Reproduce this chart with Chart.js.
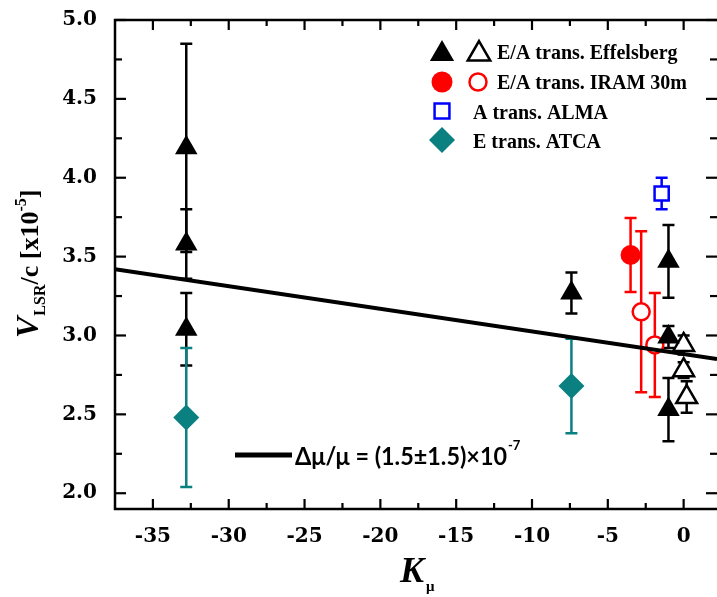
<!DOCTYPE html>
<html>
<head>
<meta charset="utf-8">
<script src="https://cdn.jsdelivr.net/npm/chart.js@4.4.0/dist/chart.umd.min.js"></script>
<style>
  html, body { margin: 0; padding: 0; background: #fff; overflow: hidden; }
  #wrap { width: 717px; height: 597px; position: relative; }
  #wrap canvas { display: block; }
</style>
</head>
<body>
<div id="wrap"><canvas id="chart"></canvas></div>
<script>
// values (K_mu on x, V_LSR/c in 1e-5 on y)
const effX = [-32.8, -32.8, -32.8, -7.4, -1.0, -1.0, -1.0];
const effY = [4.19, 3.58, 3.04, 3.27, 3.47, 2.99, 2.53];
const effErr = [0.66, 0.22, 0.23, 0.13, 0.23, 0.07, 0.20];

const effOpenX = [0.0, 0.0, 0.2];
const effOpenY = [2.94, 2.78, 2.61];
const effOpenErr = [0.06, 0.05, 0.10];

const iramX = [-3.5];
const iramY = [3.51];
const iramErr = [0.235];

const iramOpenX = [-2.8, -1.9];
const iramOpenY = [3.15, 2.94];
const iramOpenErr = [0.51, 0.33];

const almaX = [-1.45];
const almaY = [3.90];
const almaErr = [0.10];

const atcaX = [-32.8, -7.4];
const atcaY = [2.48, 2.68];
const atcaErr = [0.44, 0.30];

// fitted line
const fitX = [-37.5, 2.2];
const fitY = [3.42, 2.85];

// axes
const xTickVals = [-35, -30, -25, -20, -15, -10, -5, 0];
const yTickVals = [2.0, 2.5, 3.0, 3.5, 4.0, 4.5, 5.0];
const xRange = [-37.5, 2.2];
const yRange = [1.9, 5.0];

const TEAL = '#0a8080';
const serif = "'Liberation Serif', 'DejaVu Serif', serif";
const tickFont = "'DejaVu Serif', serif";

function pts(xs, ys) {
  return xs.map((x, i) => ({ x: x, y: ys[i] }));
}

// same shapes Chart.js uses, for the hand drawn legend
function marker(ctx, style, x, y, r, fill, stroke, lw) {
  ctx.save();
  ctx.beginPath();
  if (style === 'triangle') {
    const s = Math.sin(Math.PI / 3) * r;
    ctx.moveTo(x, y - r);
    ctx.lineTo(x + s, y + r / 2);
    ctx.lineTo(x - s, y + r / 2);
    ctx.closePath();
  } else if (style === 'circle') {
    ctx.arc(x, y, r, 0, Math.PI * 2);
  } else if (style === 'rect') {
    const h = Math.SQRT1_2 * r;
    ctx.rect(x - h, y - h, 2 * h, 2 * h);
  } else if (style === 'rectRot') {
    ctx.moveTo(x, y - r);
    ctx.lineTo(x + r, y);
    ctx.lineTo(x, y + r);
    ctx.lineTo(x - r, y);
    ctx.closePath();
  }
  ctx.fillStyle = fill;
  ctx.fill();
  if (lw > 0) {
    ctx.strokeStyle = stroke;
    ctx.lineWidth = lw;
    ctx.stroke();
  }
  ctx.restore();
}

// draw a row of text pieces (normal / sub / sup) starting at x on baseline y
function runs(ctx, parts, x, y) {
  parts.forEach(p => {
    ctx.font = p.font;
    ctx.fillText(p.t, x, y + (p.dy || 0));
    x += ctx.measureText(p.t).width + (p.gap || 0);
  });
  return x;
}

const decor = {
  id: 'decor',
  beforeDatasetsDraw(chart) {
    const ctx = chart.ctx, xs = chart.scales.x, ys = chart.scales.y, a = chart.chartArea;
    ctx.save();
    ctx.beginPath();
    ctx.rect(a.left, a.top, a.right - a.left, a.bottom - a.top);
    ctx.clip();
    chart.data.datasets.forEach(ds => {
      if (!ds.err) return;
      ctx.strokeStyle = ds.errColor;
      ctx.lineWidth = 2.5;
      ds.data.forEach((p, j) => {
        const px = xs.getPixelForValue(p.x);
        const t = ys.getPixelForValue(p.y + ds.err[j]);
        const b = ys.getPixelForValue(p.y - ds.err[j]);
        ctx.beginPath();
        ctx.moveTo(px, t); ctx.lineTo(px, b);
        ctx.moveTo(px - 6, t); ctx.lineTo(px + 6, t);
        ctx.moveTo(px - 6, b); ctx.lineTo(px + 6, b);
        ctx.stroke();
      });
    });
    ctx.restore();
  },
  afterDraw(chart) {
    const ctx = chart.ctx, xs = chart.scales.x, ys = chart.scales.y, a = chart.chartArea;
    const tick = (x1, y1, x2, y2) => { ctx.beginPath(); ctx.moveTo(x1, y1); ctx.lineTo(x2, y2); ctx.stroke(); };
    ctx.save();
    ctx.strokeStyle = '#000';
    ctx.lineWidth = 2.5;
    // frame: right side falls off the picture in the original
    ctx.beginPath();
    ctx.moveTo(a.right, a.top); ctx.lineTo(a.left, a.top);
    ctx.lineTo(a.left, a.bottom); ctx.lineTo(a.right, a.bottom);
    ctx.stroke();

    // inward ticks on all four sides
    ctx.lineWidth = 2.2;
    xTickVals.forEach(v => {
      const px = xs.getPixelForValue(v);
      tick(px, a.bottom, px, a.bottom - 10);
      tick(px, a.top, px, a.top + 10);
      const m = v + 2.5;
      if (m < xRange[1]) {
        const mx = xs.getPixelForValue(m);
        tick(mx, a.bottom, mx, a.bottom - 6);
        tick(mx, a.top, mx, a.top + 6);
      }
    });
    yTickVals.forEach((v, i) => {
      const py = ys.getPixelForValue(v);
      tick(a.left, py, a.left + 11, py);
      tick(a.right, py, a.right - 11, py);
      if (i < yTickVals.length - 1) {
        const my = ys.getPixelForValue(v + 0.25);
        tick(a.left, my, a.left + 7, my);
        tick(a.right, my, a.right - 7, my);
      }
    });

    ctx.fillStyle = '#000';
    ctx.textBaseline = 'alphabetic';

    // y title, rotated
    ctx.save();
    ctx.translate(38, 338);
    ctx.rotate(-Math.PI / 2);
    runs(ctx, [
      { t: 'V', font: 'italic bold 32px ' + serif, gap: 1 },
      { t: 'LSR', font: 'bold 16px ' + serif, dy: 7 },
      { t: '/c [x10', font: 'bold 26px ' + serif },
      { t: '-5', font: 'bold 16px ' + serif, dy: -12 },
      { t: ']', font: 'bold 26px ' + serif }
    ], 0, 0);
    ctx.restore();

    // x title
    runs(ctx, [
      { t: 'K', font: 'italic bold 36px ' + serif, gap: 2 },
      { t: 'μ', font: 'bold 15px ' + serif, dy: 9 }
    ], 400, 582);

    // fit label, condensed sans like the original
    ctx.lineWidth = 5;
    tick(235, 455, 292, 455);
    ctx.save();
    ctx.font = 'bold 25px Lato, sans-serif';
    const main = 'Δμ/μ = (1.5±1.5)×10';
    const sx = 212 / ctx.measureText(main).width;
    ctx.translate(295, 465);
    ctx.scale(sx, 1);
    runs(ctx, [
      { t: main, font: 'bold 25px Lato, sans-serif', gap: 1 },
      { t: '-7', font: 'bold 14px Lato, sans-serif', dy: -15 }
    ], 0, 0);
    ctx.restore();

    // legend
    const lf = 'bold 20px ' + serif;
    marker(ctx, 'triangle', 442, 54, 14, '#000', '#000', 0);
    marker(ctx, 'triangle', 479, 54, 13, '#fff', '#000', 2.5);
    runs(ctx, [{ t: 'E/A trans. Effelsberg', font: lf }], 497, 59);
    marker(ctx, 'circle', 442, 82, 10.5, '#ff0000', '#ff0000', 0);
    marker(ctx, 'circle', 478, 82, 8.5, '#fff', '#ff0000', 2.5);
    runs(ctx, [{ t: 'E/A trans. IRAM 30m', font: lf }], 497, 89);
    marker(ctx, 'rect', 442, 111, 10.5, '#fff', '#0000ff', 2.5);
    runs(ctx, [{ t: 'A trans. ALMA', font: lf }], 473, 119);
    marker(ctx, 'rectRot', 442, 140, 13, TEAL, TEAL, 0);
    runs(ctx, [{ t: 'E trans. ATCA', font: lf }], 473, 148);
    ctx.restore();
  }
};

new Chart(document.getElementById('chart'), {
  type: 'scatter',
  data: {
    datasets: [
      { label: 'fit', type: 'line', data: pts(fitX, fitY), borderColor: '#000', borderWidth: 4,
        pointRadius: 0, fill: false, order: 0 },
      { label: 'E/A trans. Effelsberg', data: pts(effX, effY), err: effErr, errColor: '#000',
        pointStyle: 'triangle', pointRadius: 13, backgroundColor: '#000', borderColor: '#000', borderWidth: 0, order: 2 },
      { label: 'E/A trans. Effelsberg (open)', data: pts(effOpenX, effOpenY), err: effOpenErr, errColor: '#000',
        pointStyle: 'triangle', pointRadius: 12, backgroundColor: '#fff', borderColor: '#000', borderWidth: 2.5, order: 2 },
      { label: 'E/A trans. IRAM 30m', data: pts(iramX, iramY), err: iramErr, errColor: '#ff0000',
        pointStyle: 'circle', pointRadius: 10, backgroundColor: '#ff0000', borderColor: '#ff0000', borderWidth: 0, order: 2 },
      { label: 'E/A trans. IRAM 30m (open)', data: pts(iramOpenX, iramOpenY), err: iramOpenErr, errColor: '#ff0000',
        pointStyle: 'circle', pointRadius: 8.5, backgroundColor: '#fff', borderColor: '#ff0000', borderWidth: 2.5, order: 2 },
      { label: 'A trans. ALMA', data: pts(almaX, almaY), err: almaErr, errColor: '#0000ff',
        pointStyle: 'rect', pointRadius: 10, backgroundColor: '#fff', borderColor: '#0000ff', borderWidth: 2.5, order: 2 },
      { label: 'E trans. ATCA', data: pts(atcaX, atcaY), err: atcaErr, errColor: TEAL,
        pointStyle: 'rectRot', pointRadius: 13, backgroundColor: TEAL, borderColor: TEAL, borderWidth: 0, order: 2 }
    ]
  },
  options: {
    responsive: true,
    maintainAspectRatio: false,
    animation: false,
    events: [],
    layout: { autoPadding: false, padding: { top: 20, right: 0, left: 0, bottom: 0 } },
    plugins: { legend: { display: false }, tooltip: { enabled: false } },
    scales: {
      x: {
        type: 'linear', min: xRange[0], max: xRange[1],
        afterBuildTicks: s => { s.ticks = xTickVals.map(v => ({ value: v })); },
        afterFit: s => { s.height = 88; s.paddingLeft = 0; s.paddingRight = 0; },
        grid: { display: false }, border: { display: false },
        ticks: { color: '#000', padding: 8, maxRotation: 0, autoSkip: false,
                 font: { family: tickFont, weight: 'bold', size: 20 } }
      },
      y: {
        type: 'linear', min: yRange[0], max: yRange[1],
        afterBuildTicks: s => { s.ticks = yTickVals.map(v => ({ value: v })); },
        afterFit: s => { s.width = 115; s.paddingTop = 0; s.paddingBottom = 0; },
        grid: { display: false }, border: { display: false },
        ticks: { color: '#000', padding: 10, autoSkip: false,
                 callback: v => v.toFixed(1),
                 font: { family: tickFont, weight: 'bold', size: 20 } }
      }
    }
  },
  plugins: [decor]
});
</script>
</body>
</html>
